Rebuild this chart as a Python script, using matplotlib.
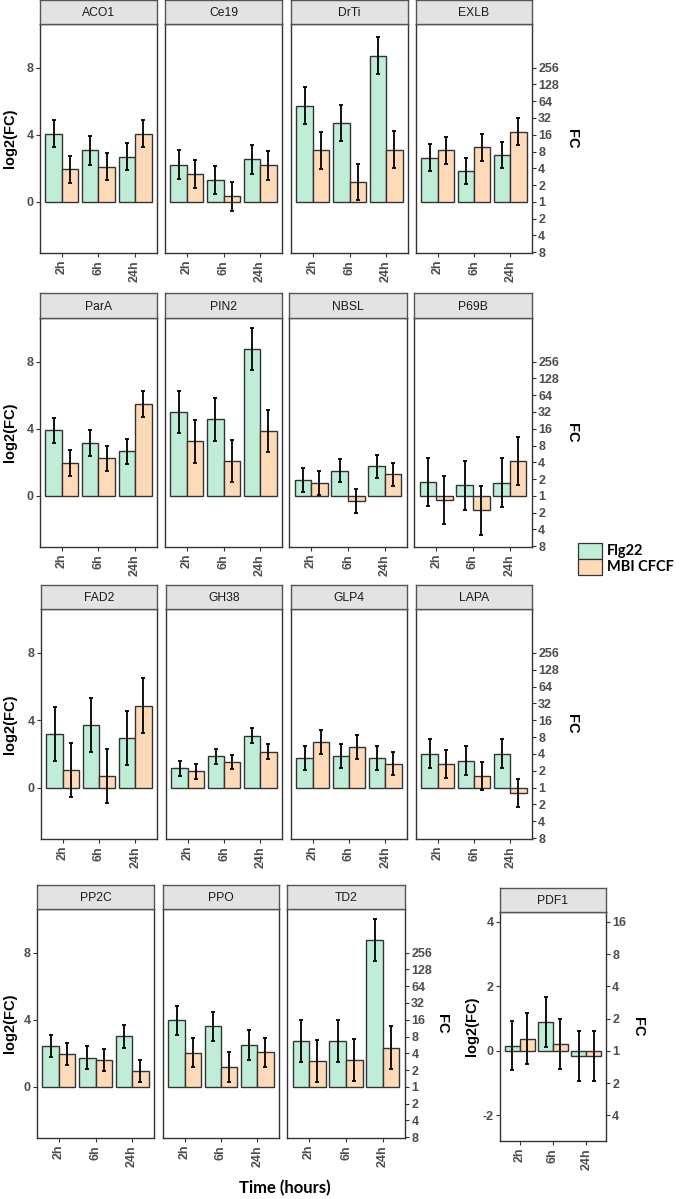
import matplotlib.pyplot as plt
from matplotlib.patches import Rectangle
import numpy as np

plt.rcParams['font.family'] = ['Liberation Sans', 'DejaVu Sans']

genes = ["ACO1", "Ce19", "DrTi", "EXLB",
         "ParA", "PIN2", "NBSL", "P69B",
         "FAD2", "GH38", "GLP4", "LAPA",
         "PP2C", "PPO", "TD2", "PDF1"]
times = ["2h", "6h", "24h"]
treatments = ["Flg22", "MBI CFCF"]

# log2(FC) per gene, for 2h / 6h / 24h
flg22_mean = [
    [4.05, 3.06, 2.70],   # ACO1
    [2.20, 1.30, 2.54],   # Ce19
    [5.74, 4.70, 8.70],   # DrTi
    [2.62, 1.84, 2.78],   # EXLB
    [3.90, 3.16, 2.65],   # ParA
    [5.01, 4.56, 8.76],   # PIN2
    [0.94, 1.49, 1.75],   # NBSL
    [0.82, 0.64, 0.78],   # P69B
    [3.19, 3.73, 2.95],   # FAD2
    [1.14, 1.86, 3.07],   # GH38
    [1.76, 1.86, 1.76],   # GLP4
    [2.02, 1.60, 2.02],   # LAPA
    [2.43, 1.73, 3.02],   # PP2C
    [3.96, 3.60, 2.49],   # PPO
    [2.74, 2.74, 8.74],   # TD2
    [0.16, 0.89, -0.17],  # PDF1
]
flg22_err = [
    [0.80, 0.84, 0.82],
    [0.86, 0.86, 0.87],
    [1.10, 1.10, 1.10],
    [0.80, 0.80, 0.78],
    [0.76, 0.76, 0.76],
    [1.26, 1.27, 1.25],
    [0.69, 0.69, 0.70],
    [1.44, 1.46, 1.45],
    [1.60, 1.60, 1.60],
    [0.44, 0.44, 0.44],
    [0.70, 0.71, 0.70],
    [0.85, 0.85, 0.84],
    [0.68, 0.68, 0.69],
    [0.88, 0.87, 0.88],
    [1.25, 1.25, 1.26],
    [0.77, 0.78, 0.77],
]
mbi_mean = [
    [1.94, 2.10, 4.06],
    [1.66, 0.34, 2.18],
    [3.08, 1.18, 3.10],
    [3.08, 3.24, 4.18],
    [1.97, 2.23, 5.47],
    [3.26, 2.09, 3.84],
    [0.76, -0.32, 1.29],
    [-0.26, -0.86, 2.07],
    [1.06, 0.68, 4.87],
    [0.96, 1.52, 2.12],
    [2.70, 2.42, 1.42],
    [1.40, 0.68, -0.34],
    [1.97, 1.59, 0.94],
    [2.03, 1.17, 2.05],
    [1.54, 1.58, 2.34],
    [0.38, 0.21, -0.17],
]
mbi_err = [
    [0.82, 0.82, 0.82],
    [0.86, 0.86, 0.87],
    [1.10, 1.10, 1.10],
    [0.80, 0.80, 0.80],
    [0.76, 0.76, 0.76],
    [1.28, 1.25, 1.25],
    [0.70, 0.70, 0.68],
    [1.44, 1.45, 1.45],
    [1.60, 1.59, 1.61],
    [0.44, 0.44, 0.44],
    [0.69, 0.70, 0.70],
    [0.85, 0.84, 0.84],
    [0.67, 0.66, 0.68],
    [0.86, 0.88, 0.87],
    [1.27, 1.26, 1.26],
    [0.78, 0.78, 0.78],
]

green = '#BFEDD8'
orange = '#FFDAB9'
edge = '#333333'
tickcol = '#4D4D4D'

W, H = 685, 1199
fig = plt.figure(figsize=(W / 100, H / 100), dpi=100)


def px_axes(l, r, t, b):
    return fig.add_axes([l / W, 1 - b / H, (r - l) / W, (b - t) / H])


def fx(x):
    return x / W


def fy(y):
    return 1 - y / H


# (strip top, body top, body bottom, [(left, right), ...]) in pixels
rows = [
    (0, 24, 253, [(40, 157), (165, 282), (291, 408), (416, 532)]),
    (293, 318, 547, [(40, 157), (165, 282), (289, 407), (414, 532)]),
    (585, 609, 839, [(41, 157), (166, 282), (291, 407), (416, 532)]),
    (885, 909, 1138, [(37, 154), (163, 279), (287, 405)]),
    (888, 912, 1141, [(500, 606)]),
]


def draw_panel(ax, i, ylim):
    x = np.arange(1, 4)
    w = 0.45
    ax.bar(x - w / 2, flg22_mean[i], w, color=green, edgecolor=edge, linewidth=1.0, zorder=2)
    ax.bar(x + w / 2, mbi_mean[i], w, color=orange, edgecolor=edge, linewidth=1.0, zorder=2)
    ax.errorbar(x - w / 2, flg22_mean[i], yerr=flg22_err[i], fmt='none', ecolor='black',
                elinewidth=1.3, capsize=1.6, capthick=1.3, zorder=3)
    ax.errorbar(x + w / 2, mbi_mean[i], yerr=mbi_err[i], fmt='none', ecolor='black',
                elinewidth=1.3, capsize=1.6, capthick=1.3, zorder=3)
    ax.set_xlim(0.4, 3.6)
    ax.set_ylim(*ylim)
    ax.set_xticks(x)
    ax.set_xticklabels(times, rotation=90, fontsize=9, fontweight='bold', color=tickcol)
    ax.tick_params(axis='x', length=3, width=0.8, color=edge, pad=2)
    for s in ax.spines.values():
        s.set_color(edge)
        s.set_linewidth(1.0)


gi = 0
for ri, (st, bt, bb, cols) in enumerate(rows):
    is_pdf = ri == 4
    ylim = (-2.8, 4.31) if is_pdf else (-3.05, 10.6)
    for ci, (l, r) in enumerate(cols):
        ax = px_axes(l, r, bt, bb)
        draw_panel(ax, gi, ylim)

        # left axis
        if ci == 0:
            lt = [-2, 0, 2, 4] if is_pdf else [0, 4, 8]
            ax.set_yticks(lt)
            ax.set_yticklabels([str(v) for v in lt], fontsize=9, fontweight='bold', color=tickcol)
            ax.tick_params(axis='y', length=3, width=0.8, color=edge, pad=1.5)
        else:
            ax.set_yticks([])

        # right axis in fold change
        if ci == len(cols) - 1:
            ax2 = ax.twinx()
            ax2.set_ylim(*ylim)
            rt = np.arange(-2, 5) if is_pdf else np.arange(-3, 9)
            ax2.set_yticks(rt)
            ax2.set_yticklabels([str(2 ** abs(int(v))) for v in rt], fontsize=9,
                                fontweight='bold', color=tickcol)
            ax2.tick_params(axis='y', length=3, width=0.8, color=edge, pad=1.5)
            for s in ax2.spines.values():
                s.set_visible(False)

        # strip
        sx = px_axes(l, r, st, bt)
        sx.set_facecolor('#E3E3E3')
        sx.set_xticks([])
        sx.set_yticks([])
        for s in sx.spines.values():
            s.set_color('#555555')
            s.set_linewidth(1.0)
        sx.text(0.5, 0.45, genes[gi], ha='center', va='center', fontsize=8.7,
                color='#1A1A1A', transform=sx.transAxes)
        gi += 1

    mid = (bt + bb) / 2
    if is_pdf:
        fig.text(fx(472), fy(mid), "log2(FC)", rotation=90, ha='center', va='center',
                 fontsize=10.5, fontweight='bold')
        fig.text(fx(638), fy(mid), "FC", rotation=270, ha='center', va='center',
                 fontsize=10.5, fontweight='bold')
    else:
        fig.text(fx(10), fy(mid), "log2(FC)", rotation=90, ha='center', va='center',
                 fontsize=10.5, fontweight='bold')
        fc_x = 442 if ri == 3 else 572
        fig.text(fx(fc_x), fy(mid), "FC", rotation=270, ha='center', va='center',
                 fontsize=10.5, fontweight='bold')

fig.text(fx(285), fy(1188), "Time (hours)", ha='center', va='center',
         fontsize=12, fontweight='bold', family=['Lato', 'DejaVu Sans'])

# legend
for k, (lab, col) in enumerate(zip(treatments, [green, orange])):
    top = 543 + k * 16
    fig.add_artist(Rectangle((fx(578), fy(top + 16)), 24 / W, 16 / H, transform=fig.transFigure,
                             facecolor=col, edgecolor=edge, linewidth=0.9))
    fig.text(fx(607), fy(top + 8), lab, ha='left', va='center', fontsize=10.5,
             fontweight='bold', family=['Lato', 'DejaVu Sans'])

fig.savefig('out.png', dpi=100)
